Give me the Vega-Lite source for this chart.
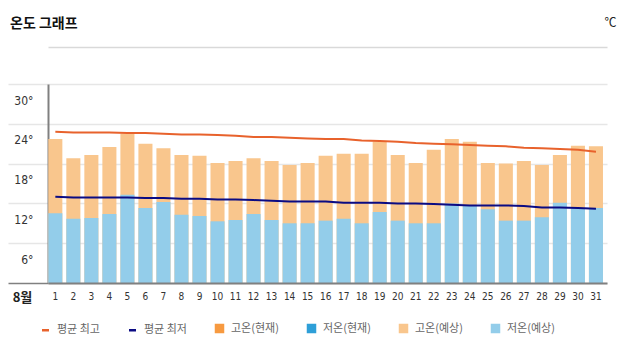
{
  "$schema": "https://vega.github.io/schema/vega-lite/v6.json",
  "width": 559,
  "height": 199,
  "autosize": {"type": "none"},
  "padding": {"left": 48, "top": 84, "right": 19, "bottom": 70},
  "background": "white",
  "title": {"text": "온도 그래프", "anchor": "start", "frame": "group", "dx": -38, "dy": 36, "fontSize": 14, "font": "Noto Sans CJK KR", "fontWeight": "bold", "color": "#111111", "offset": 14, "baseline": "middle"},
  "config": {"view": {"stroke": null}},
  "data": {"values": [
    {"day": 1, "high": 21.7, "low": 10.5, "avgHigh": 22.8, "avgLow": 13.0},
    {"day": 2, "high": 18.8, "low": 9.7, "avgHigh": 22.7, "avgLow": 12.9},
    {"day": 3, "high": 19.3, "low": 9.8, "avgHigh": 22.7, "avgLow": 12.9},
    {"day": 4, "high": 20.5, "low": 10.4, "avgHigh": 22.7, "avgLow": 12.9},
    {"day": 5, "high": 22.5, "low": 13.3, "avgHigh": 22.6, "avgLow": 12.9},
    {"day": 6, "high": 21.0, "low": 11.3, "avgHigh": 22.6, "avgLow": 12.8},
    {"day": 7, "high": 20.3, "low": 12.2, "avgHigh": 22.5, "avgLow": 12.8},
    {"day": 8, "high": 19.3, "low": 10.3, "avgHigh": 22.4, "avgLow": 12.7},
    {"day": 9, "high": 19.2, "low": 10.1, "avgHigh": 22.4, "avgLow": 12.7},
    {"day": 10, "high": 18.1, "low": 9.3, "avgHigh": 22.3, "avgLow": 12.6},
    {"day": 11, "high": 18.4, "low": 9.5, "avgHigh": 22.2, "avgLow": 12.6},
    {"day": 12, "high": 18.8, "low": 10.4, "avgHigh": 22.0, "avgLow": 12.5},
    {"day": 13, "high": 18.4, "low": 9.5, "avgHigh": 22.0, "avgLow": 12.4},
    {"day": 14, "high": 17.8, "low": 9.0, "avgHigh": 21.9, "avgLow": 12.3},
    {"day": 15, "high": 18.1, "low": 9.0, "avgHigh": 21.8, "avgLow": 12.3},
    {"day": 16, "high": 19.2, "low": 9.4, "avgHigh": 21.7, "avgLow": 12.3},
    {"day": 17, "high": 19.5, "low": 9.7, "avgHigh": 21.7, "avgLow": 12.1},
    {"day": 18, "high": 19.5, "low": 9.0, "avgHigh": 21.5, "avgLow": 12.1},
    {"day": 19, "high": 21.3, "low": 10.7, "avgHigh": 21.4, "avgLow": 12.1},
    {"day": 20, "high": 19.3, "low": 9.4, "avgHigh": 21.3, "avgLow": 12.0},
    {"day": 21, "high": 18.1, "low": 9.0, "avgHigh": 21.1, "avgLow": 12.0},
    {"day": 22, "high": 20.1, "low": 9.0, "avgHigh": 21.0, "avgLow": 11.9},
    {"day": 23, "high": 21.7, "low": 12.0, "avgHigh": 20.9, "avgLow": 11.8},
    {"day": 24, "high": 21.3, "low": 11.6, "avgHigh": 20.8, "avgLow": 11.7},
    {"day": 25, "high": 18.1, "low": 11.1, "avgHigh": 20.7, "avgLow": 11.7},
    {"day": 26, "high": 18.0, "low": 9.4, "avgHigh": 20.6, "avgLow": 11.7},
    {"day": 27, "high": 18.4, "low": 9.4, "avgHigh": 20.4, "avgLow": 11.6},
    {"day": 28, "high": 17.8, "low": 9.9, "avgHigh": 20.3, "avgLow": 11.4},
    {"day": 29, "high": 19.3, "low": 12.1, "avgHigh": 20.2, "avgLow": 11.4},
    {"day": 30, "high": 20.7, "low": 11.3, "avgHigh": 20.1, "avgLow": 11.3},
    {"day": 31, "high": 20.6, "low": 11.3, "avgHigh": 19.8, "avgLow": 11.2}
  ]},
  "resolve": {"axis": {"x": "independent"}},
  "layer": [
    {
      "mark": {"type": "bar"},
      "encoding": {
        "x": {"field": "day", "type": "ordinal", "sort": null,
          "scale": {"paddingInner": 0.22, "paddingOuter": 0.12, "align": 0.07},
          "axis": {"orient": "bottom", "title": "8월", "titleX": -26, "titleY": 14, "titleAngle": 0, "titleAlign": "center", "titleBaseline": "middle", "titleFontSize": 13, "titleFont": "Noto Sans CJK KR", "titleFontWeight": "bold", "titleColor": "#222222",
            "ticks": false, "labelAngle": 0, "labelPadding": 8, "labelFontSize": 10, "labelFont": "DejaVu Sans Condensed", "labelColor": "#333333",
            "domain": true, "domainColor": "#808080", "domainWidth": 2, "grid": false, "zindex": 1}},
        "y": {"field": "high", "type": "quantitative", "title": "℃",
          "scale": {"domain": [0, 30], "nice": false, "zero": true},
          "axis": {"values": [0, 6, 12, 18, 24, 30], "tickCount": 12, "title": "℃", "titleAngle": 0, "titleX": 562, "titleY": -62, "titleAlign": "center", "titleBaseline": "middle", "titleFontSize": 12, "titleFontWeight": "normal", "titleFont": "Noto Sans CJK KR", "titleColor": "#222222",
            "domain": true, "domainColor": "#808080", "domainWidth": 2,
            "grid": true, "gridColor": "#e6e6e6", "gridWidth": 1.5,
            "ticks": true, "tickSize": 40,
            "tickColor": {"condition": {"test": "datum.value == 0", "value": "#808080"}, "value": "#e6e6e6"},
            "tickWidth": 1.5,
            "labelOverlap": false,
            "labelPadding": -25, "labelOffset": 16, "labelFontSize": 12, "labelFont": "DejaVu Sans Condensed", "labelColor": "#333333",
            "labelExpr": "datum.value === 0 ? '' : datum.value + '°'"}},
        "color": {"datum": "고온(예상)",
          "scale": {"domain": ["평균 최고", "평균 최저", "고온(현재)", "저온(현재)", "고온(예상)", "저온(예상)"],
                    "range": ["#e8622c", "#0b0b83", "#f79a40", "#2e9fd8", "#f9c68d", "#93cdea"]},
          "legend": {"orient": "none", "legendX": -8, "legendY": 239, "direction": "horizontal", "title": null,
            "labelFontSize": 11, "labelColor": "#666666", "labelFont": "Noto Sans CJK KR",
            "symbolSize": 49, "symbolType": "square", "labelOffset": 6, "columnPadding": 24, "symbolStrokeWidth": 2.5, "padding": 0,
            "encode": {"symbols": {"update": {
              "shape": {"signal": "(datum.value === '평균 최고' || datum.value === '평균 최저') ? 'stroke' : 'square'"},
              "fill": {"signal": "(datum.value === '평균 최고' || datum.value === '평균 최저') ? 'transparent' : scale('color', datum.value)"},
              "stroke": {"signal": "(datum.value === '평균 최고' || datum.value === '평균 최저') ? scale('color', datum.value) : 'transparent'"},
              "strokeWidth": {"value": 2.5}
            }}}}}
      }
    },
    {
      "mark": {"type": "bar"},
      "encoding": {
        "x": {"field": "day", "type": "ordinal", "sort": null,
          "axis": {"orient": "top", "offset": 37, "labels": false, "ticks": false, "title": null, "domain": true, "domainColor": "#d9d9d9", "domainWidth": 1.5, "grid": false}},
        "y": {"field": "low", "type": "quantitative", "title": "℃"},
        "color": {"datum": "저온(예상)"}
      }
    },
    {
      "mark": {"type": "line", "strokeWidth": 2},
      "encoding": {
        "x": {"field": "day", "type": "ordinal", "sort": null, "axis": null},
        "y": {"field": "avgHigh", "type": "quantitative", "title": "℃"},
        "color": {"datum": "평균 최고"}
      }
    },
    {
      "mark": {"type": "line", "strokeWidth": 2},
      "encoding": {
        "x": {"field": "day", "type": "ordinal", "sort": null, "axis": null},
        "y": {"field": "avgLow", "type": "quantitative", "title": "℃"},
        "color": {"datum": "평균 최저"}
      }
    }
  ]
}
